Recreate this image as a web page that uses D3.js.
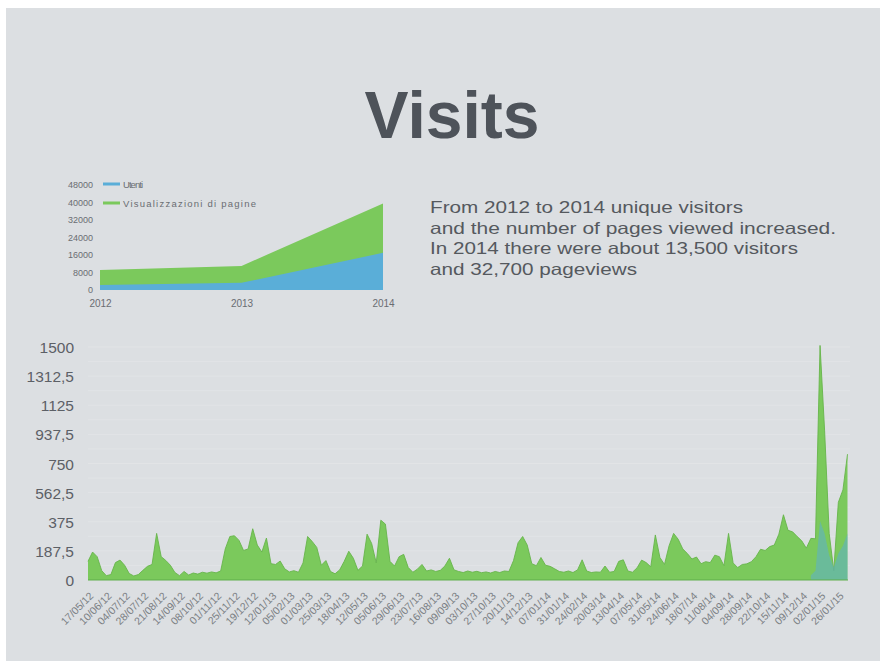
<!DOCTYPE html>
<html>
<head>
<meta charset="utf-8">
<script src="https://cdn.jsdelivr.net/npm/d3@7"></script>
<style>
  html, body { margin: 0; padding: 0; background: #ffffff; }
  svg { display: block; }
  text { font-family: "Liberation Sans", Arial, sans-serif; }
</style>
</head>
<body>
<svg id="chart" width="885" height="669"></svg>
<script>
// ---------- Data ----------
// Small yearly chart
const years = ["2012", "2013", "2014"];
const yearUsers = [2300, 3300, 17000];        // Utenti
const yearPageviews = [9100, 11000, 39500];   // Visualizzazioni di pagine
const smallYTicks = [0, 8000, 16000, 24000, 32000, 40000, 48000];

// Big daily chart: one value every 6 days starting 17/05/12
const startDate = "17/05/12";
const stepDays = 6;
const pageviews = [
  120,180,150,60,28,35,112,128,95,42,26,35,62,88,100,300,150,126,95,48,
  28,55,32,45,38,50,44,52,46,58,200,280,285,255,190,200,330,225,180,270,
  105,100,122,72,52,60,50,110,280,248,210,95,125,55,40,65,120,185,140,62,
  90,295,235,110,385,360,120,90,150,165,80,50,70,100,58,65,55,62,90,140,
  65,55,48,58,50,56,47,52,45,55,48,58,55,125,240,280,225,105,92,145,
  95,88,72,55,50,58,48,65,130,58,48,52,50,90,50,55,120,130,58,50,
  78,128,112,85,290,145,100,220,300,262,200,170,135,148,105,118,112,160,150,92,
  300,110,80,100,104,118,150,198,190,215,225,295,420,320,310,280,252,205,268,265,
  1510,960,300,60,500,580,810
];
// Utenti series only present for the last weeks
const usersStartIndex = 158;
const users = [30, 60, 380, 300, 160, 80, 170, 220, 300];

const bigYTicks = [0, 187.5, 375, 562.5, 750, 937.5, 1125, 1312.5, 1500];
const bigYLabels = ["0","187,5","375","562,5","750","937,5","1125","1312,5","1500"];
const dateLabels = [
  "17/05/12","10/06/12","04/07/12","28/07/12","21/08/12","14/09/12","08/10/12","01/11/12",
  "25/11/12","19/12/12","12/01/13","05/02/13","01/03/13","25/03/13","18/04/13","12/05/13",
  "05/06/13","29/06/13","23/07/13","16/08/13","09/09/13","03/10/13","27/10/13","20/11/13",
  "14/12/13","07/01/14","31/01/14","24/02/14","20/03/14","13/04/14","07/05/14","31/05/14",
  "24/06/14","18/07/14","11/08/14","04/09/14","28/09/14","22/10/14","15/11/14","09/12/14",
  "02/01/15","26/01/15"
];

const titleText = "Visits";
const bodyLines = [
  "From 2012 to 2014 unique visitors",
  "and the number  of pages viewed increased.",
  "In 2014 there were about 13,500 visitors",
  "and 32,700 pageviews"
];

// ---------- Drawing ----------
const svg = d3.select("#chart");
const BG = "#dcdfe2";
const GREEN = "#7bc95c";
const GREEN_DARK = "#66b44b";
const BLUE = "#5aaed8";

svg.append("rect").attr("x", 6).attr("y", 8).attr("width", 874).attr("height", 653).attr("fill", BG);

// Title
svg.append("text").attr("x", 452).attr("y", 138).attr("text-anchor", "middle")
  .attr("font-size", 66).attr("font-weight", "bold").attr("fill", "#4e535a").text(titleText);

// Body text
const bodyWidths = [313, 406, 368, 207];
bodyLines.forEach((t, i) => {
  svg.append("text").attr("x", 430).attr("y", 213 + i * 20.5)
    .attr("font-size", 16.5).attr("fill", "#55595e")
    .attr("textLength", bodyWidths[i]).attr("lengthAdjust", "spacingAndGlyphs")
    .text(t);
});

// ---- Small chart ----
const sx = d3.scalePoint().domain(years).range([100, 383]);
const sy = d3.scaleLinear().domain([0, 48000]).range([290, 185]);
const small = svg.append("g");

const areaPV = d3.area().x((d, i) => sx(years[i])).y0(sy(0)).y1(d => sy(d));
small.append("path").datum(yearPageviews).attr("d", areaPV).attr("fill", GREEN);
small.append("path").datum(yearUsers).attr("d", areaPV).attr("fill", BLUE);

const syAxis = small.append("g").attr("transform", "translate(93,0)")
  .call(d3.axisLeft(sy).tickValues(smallYTicks).tickSize(0).tickPadding(0).tickFormat(d3.format("d")));
syAxis.select(".domain").remove();
syAxis.selectAll("text").attr("font-size", 9).attr("fill", "#6a6d72")
  .attr("font-family", "Liberation Sans, Arial, sans-serif");

const sxAxis = small.append("g").attr("transform", "translate(0,296)")
  .call(d3.axisBottom(sx).tickSize(0).tickPadding(4));
sxAxis.select(".domain").remove();
sxAxis.selectAll("text").attr("font-size", 10).attr("fill", "#6a6d72")
  .attr("font-family", "Liberation Sans, Arial, sans-serif");

// legend
const legend = [
  { label: "Utenti", color: BLUE, y: 184, w: 20 },
  { label: "Visualizzazioni di pagine", color: GREEN, y: 203, w: 133 }
];
legend.forEach(l => {
  small.append("rect").attr("x", 103).attr("y", l.y - 1.5).attr("width", 17).attr("height", 3).attr("fill", l.color);
  small.append("text").attr("x", 123).attr("y", l.y + 3.5).attr("font-size", 9.5).attr("fill", "#6a6d72")
    .attr("textLength", l.w).attr("lengthAdjust", "spacing").text(l.label);
});

// ---- Big chart ----
const parse = d3.utcParse("%d/%m/%y");
const start = parse(startDate);
const dates = pageviews.map((_, i) => d3.utcDay.offset(start, i * stepDays));
const endDate = dates[dates.length - 1];

const x = d3.scaleUtc().domain([start, endDate]).range([88, 847.5]);
const y = d3.scaleLinear().domain([0, 1500]).range([580, 347]);

const big = svg.append("g");

// gridlines (very faint)
const gridVals = d3.range(0, 1500.1, 93.75);
big.append("g").selectAll("line").data(gridVals).join("line")
  .attr("x1", 88).attr("x2", 850)
  .attr("y1", d => y(d)).attr("y2", d => y(d))
  .attr("stroke", "#e6e8ea").attr("stroke-width", 1).attr("opacity", 0.6);

const pvData = pageviews.map((v, i) => ({ d: dates[i], v }));
const area = d3.area().x(p => x(p.d)).y0(y(0)).y1(p => y(p.v));
const line = d3.line().x(p => x(p.d)).y(p => y(p.v));
big.append("path").datum(pvData).attr("d", area).attr("fill", GREEN);
big.append("path").datum(pvData).attr("d", line).attr("fill", "none")
  .attr("stroke", GREEN_DARK).attr("stroke-width", 0.9);

const uData = users.map((v, i) => ({ d: dates[usersStartIndex + i], v }));
big.append("path").datum(uData).attr("d", area).attr("fill", BLUE).attr("opacity", 0.5);

// baseline
big.append("line").attr("x1", 88).attr("x2", 848).attr("y1", y(0)).attr("y2", y(0))
  .attr("stroke", "#5fae4a").attr("stroke-width", 1.2);

// y axis
const yAxis = big.append("g").attr("transform", "translate(74,0)")
  .call(d3.axisLeft(y).tickValues(bigYTicks).tickSize(0).tickPadding(0)
    .tickFormat((d, i) => bigYLabels[i]));
yAxis.select(".domain").remove();
yAxis.selectAll("text").attr("font-size", 15.5).attr("fill", "#5c6066")
  .attr("font-family", "Liberation Sans, Arial, sans-serif").attr("dy", "0.36em");

// x axis
const xAxis = big.append("g").attr("transform", "translate(0,588)")
  .call(d3.axisBottom(x).tickValues(dateLabels.map(parse)).tickSize(0)
    .tickFormat((d, i) => dateLabels[i]));
xAxis.select(".domain").remove();
xAxis.selectAll("text")
  .attr("font-size", 10.5).attr("fill", "#7a7e83")
  .attr("font-family", "Liberation Sans, Arial, sans-serif")
  .attr("text-anchor", "end")
  .attr("transform", "translate(3,6) rotate(-45)")
  .attr("dy", "0.35em").attr("y", 0).attr("x", 0);
</script>
</body>
</html>
